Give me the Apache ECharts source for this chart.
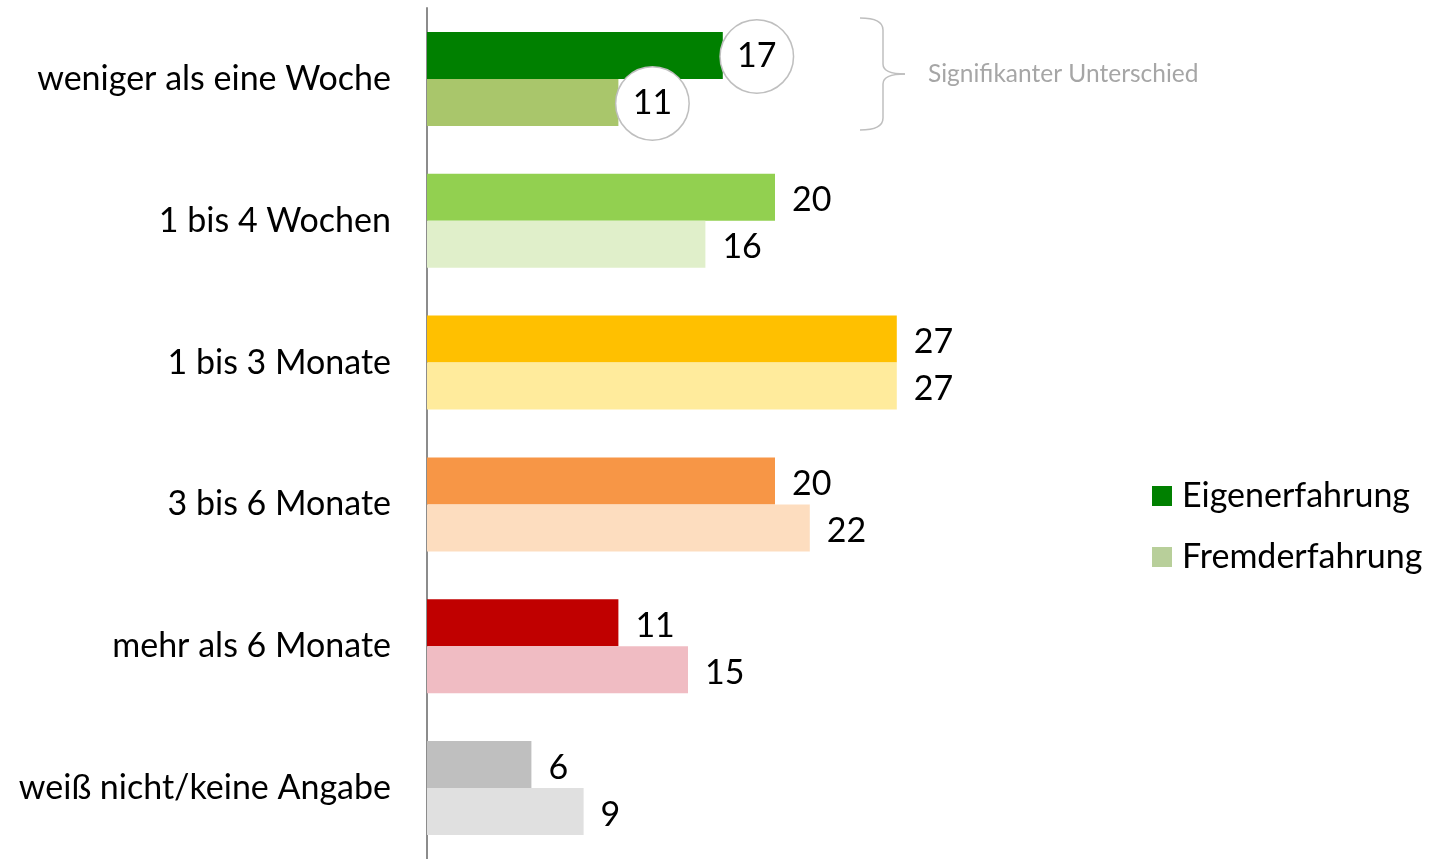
<!DOCTYPE html>
<html>
<head>
<meta charset="utf-8">
<script src="https://cdn.jsdelivr.net/npm/echarts@6/dist/echarts.min.js"></script>
<style>
  html, body { margin: 0; padding: 0; background: #fff; }
  #chart { width: 1434px; height: 859px; }
</style>
</head>
<body>
<div id="chart"></div>
<script>
  const categories = ['weniger als eine Woche', '1 bis 4 Wochen', '1 bis 3 Monate', '3 bis 6 Monate', 'mehr als 6 Monate', 'weiß nicht/keine Angabe']
  const eigenValues = [17, 20, 27, 20, 11, 6]
  const fremdValues = [11, 16, 27, 22, 15, 9]
  const eigenColors = ['#008000', '#92D050', '#FFC000', '#F79646', '#C00000', '#BFBFBF']
  const fremdColors = ['#A9C66B', '#E0EFCA', '#FFEB9C', '#FDDDBF', '#F0BCC3', '#E0E0E0']

  const font = 'Lato'
  const fs = 34

  // Kreis um die Beschriftung der ersten Kategorie
  const circled = {
    position: 'right',
    distance: 34,
    align: 'center',
    verticalAlign: 'middle',
    offset: [0, 1],
    width: 72,
    height: 72,
    lineHeight: 72,
    borderRadius: 36,
    borderColor: '#BFBFBF',
    borderWidth: 1.5,
    backgroundColor: '#fff'
  }

  function toData(values, colors) {
    return values.map(function (v, i) {
      const item = { value: v, itemStyle: { color: colors[i] } }
      if (i === 0) item.label = circled
      return item
    })
  }

  // geschweifte Klammer
  const braceStyle = { fill: 'none', stroke: '#BFBFBF', lineWidth: 1.5 }
  function curve(x1, y1, cx, cy, x2, y2) {
    return { type: 'bezierCurve', shape: { x1: x1, y1: y1, cpx1: cx, cpy1: cy, x2: x2, y2: y2 }, style: braceStyle }
  }
  function seg(x1, y1, x2, y2) {
    return { type: 'line', shape: { x1: x1, y1: y1, x2: x2, y2: y2 }, style: braceStyle }
  }

  const valueLabel = { show: true, position: 'right', distance: 17, offset: [0, 3], fontSize: fs, color: '#000', fontFamily: font }

  const chart = echarts.init(document.getElementById('chart'))
  const option = {
    animation: false,
    textStyle: { fontFamily: font },
    grid: { left: 427, top: 8, width: 522, height: 852 },
    legend: {
      orient: 'vertical',
      left: 1147,
      top: 474,
      itemWidth: 20,
      itemHeight: 20,
      itemGap: 27,
      icon: 'rect',
      textStyle: { fontSize: fs, color: '#000', fontFamily: font, padding: [0, 0, 0, 5] },
      data: [
        { name: 'Eigenerfahrung', itemStyle: { color: '#008000' } },
        { name: 'Fremderfahrung', itemStyle: { color: '#B8CF9A' } }
      ]
    },
    xAxis: {
      type: 'value',
      min: 0,
      max: 30,
      show: false
    },
    yAxis: {
      type: 'category',
      inverse: true,
      data: categories,
      axisLine: { show: true, lineStyle: { color: '#8C8C8C', width: 2 } },
      axisTick: { show: false },
      axisLabel: { fontSize: fs, color: '#000', margin: 36, fontFamily: font, padding: [5, 0, 0, 0] }
    },
    graphic: [
      curve(860, 18, 883, 18, 883, 30),
      seg(883, 30, 883, 64),
      curve(883, 64, 883, 74, 905, 74),
      curve(905, 74, 883, 74, 883, 84),
      seg(883, 84, 883, 118),
      curve(883, 118, 883, 130, 860, 130),
      {
        type: 'text',
        left: 928,
        top: 62,
        style: { text: 'Signifikanter Unterschied', fill: '#A6A6A6', font: '24.5px ' + font }
      }
    ],
    series: [
      {
        name: 'Eigenerfahrung',
        type: 'bar',
        barWidth: 47,
        barGap: '0%',
        label: valueLabel,
        data: toData(eigenValues, eigenColors)
      },
      {
        name: 'Fremderfahrung',
        type: 'bar',
        barWidth: 47,
        barGap: '0%',
        label: valueLabel,
        data: toData(fremdValues, fremdColors)
      }
    ]
  }
  chart.setOption(option)
</script>
</body>
</html>
